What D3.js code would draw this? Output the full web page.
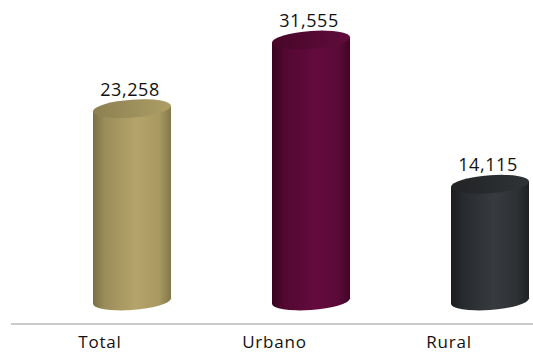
<!DOCTYPE html>
<html><head><meta charset="utf-8">
<script src="https://cdn.jsdelivr.net/npm/d3@7"></script>
<style>html,body{margin:0;padding:0;background:#fff;}svg{display:block;}</style>
</head><body>
<div id="chart"></div>
<script>
const categories = ["Total", "Urbano", "Rural"];
const values = [23258, 31555, 14115];
const valueLabels = ["23,258", "31,555", "14,115"];
const palettes = [
  ["#7a7046", "#9a8d5a", "#b5a46a", "#a89960", "#83784c"],
  ["#38041f", "#510830", "#640b3d", "#5b0a38", "#400526"],
  ["#1a1c1e", "#282b2e", "#373a3e", "#2e3134", "#1e2022"]
];
const topColors = [
  ["#8b8051", "#ae9e66"],
  ["#480629", "#600c3b"],
  ["#212325", "#303336"]
];

const W = 533, H = 354;
const svg = d3.select("#chart").append("svg").attr("width", W).attr("height", H);
const defs = svg.append("defs");

const xCyl = d3.scalePoint().domain(categories).range([132, 490]);
const xLab = d3.scalePoint().domain(categories).range([100, 449]);
const y = d3.scaleLinear().domain([0, 31555]).range([301, 40]);

const halfW = 39, ry = 9, skew = -4;

categories.forEach((c, i) => {
  const g = defs.append("linearGradient").attr("id", "body" + i)
    .attr("x1", "0%").attr("x2", "100%").attr("y1", "0%").attr("y2", "0%");
  const stops = [0, 0.15, 0.55, 0.85, 1];
  palettes[i].forEach((col, k) => g.append("stop").attr("offset", stops[k]).attr("stop-color", col));
  const t = defs.append("linearGradient").attr("id", "top" + i)
    .attr("x1", "0%").attr("x2", "100%").attr("y1", "0%").attr("y2", "0%");
  t.append("stop").attr("offset", 0).attr("stop-color", topColors[i][0]);
  t.append("stop").attr("offset", 1).attr("stop-color", topColors[i][1]);
});

svg.append("line").attr("x1", 11).attr("x2", W).attr("y1", 324).attr("y2", 324)
  .attr("stroke", "#c9cbca").attr("stroke-width", 2);

const cyl = svg.selectAll("g.cyl").data(categories).join("g")
  .attr("class", "cyl")
  .attr("transform", d => `translate(${xCyl(d)},0) skewY(${skew})`);

cyl.append("rect")
  .attr("x", -halfW).attr("width", halfW * 2)
  .attr("y", (d, i) => y(values[i]))
  .attr("height", (d, i) => y(0) - y(values[i]))
  .attr("fill", (d, i) => `url(#body${i})`);
cyl.append("ellipse")
  .attr("cx", 0).attr("cy", y(0)).attr("rx", halfW).attr("ry", ry)
  .attr("fill", (d, i) => `url(#body${i})`);
cyl.append("ellipse")
  .attr("cx", 0).attr("cy", (d, i) => y(values[i])).attr("rx", halfW).attr("ry", ry)
  .attr("fill", (d, i) => `url(#top${i})`);

svg.selectAll("text.val").data(categories).join("text")
  .attr("class", "val")
  .attr("x", d => xCyl(d) - 2)
  .attr("y", (d, i) => y(values[i]) - ry - 4)
  .attr("text-anchor", "middle")
  .attr("font-family", "'Open Sans', sans-serif")
  .attr("font-size", 18)
  .attr("letter-spacing", 0.6)
  .attr("fill", "#111")
  .text((d, i) => valueLabels[i]);

svg.selectAll("text.cat").data(categories).join("text")
  .attr("class", "cat")
  .attr("x", d => xLab(d))
  .attr("y", 348)
  .attr("text-anchor", "middle")
  .attr("font-family", "'Open Sans', sans-serif")
  .attr("font-size", 17)
  .attr("letter-spacing", 0.8)
  .attr("fill", "#111")
  .text(d => d);
</script>
</body></html>
